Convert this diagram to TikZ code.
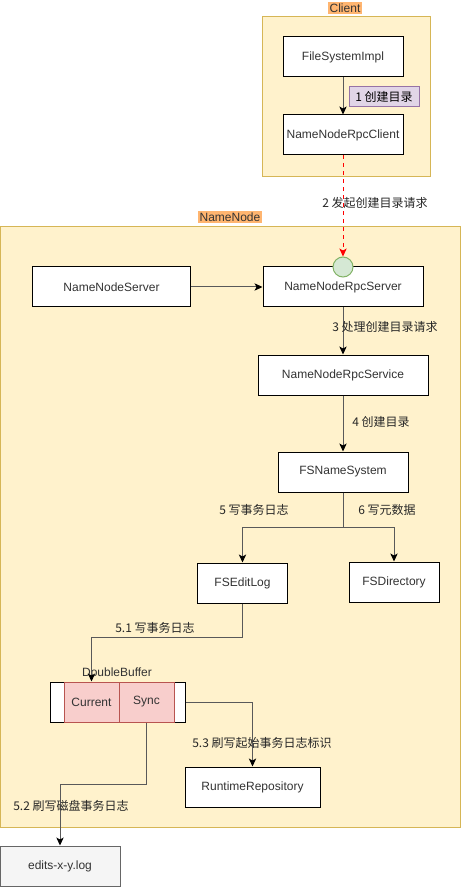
\documentclass[tikz,border=0pt]{standalone}
\usepackage{fontspec}
\setmainfont{Liberation Sans}
\newfontfamily\cjk{Noto Sans CJK SC}
\usepackage{xcolor}
\usetikzlibrary{arrows.meta,positioning,calc}
\definecolor{PanelFill}{HTML}{FFF2CC}
\definecolor{PanelLine}{HTML}{D6B656}
\definecolor{TagOrange}{HTML}{FFB570}
\definecolor{NoteFill}{HTML}{E1D5E7}
\definecolor{NoteLine}{HTML}{9673A6}
\definecolor{PortFill}{HTML}{D5E8D4}
\definecolor{PortLine}{HTML}{82B366}
\definecolor{BufFill}{HTML}{F8CECC}
\definecolor{BufLine}{HTML}{B85450}
\definecolor{FileFill}{HTML}{F5F5F5}
\definecolor{FileLine}{HTML}{666666}
\definecolor{FileText}{HTML}{333333}

\begin{document}
\begin{tikzpicture}[x=0.75pt, y=-0.75pt, font=\fontsize{9pt}{11pt}\selectfont, line width=0.75pt,
  panel/.style={draw=PanelLine, fill=PanelFill},
  tag/.style={fill=TagOrange, inner sep=1pt, text=FileText},
  box/.style={draw=black, fill=white, minimum width=90pt, minimum height=30pt, inner sep=0pt, text=FileText},
  note/.style={draw=NoteLine, fill=NoteFill, minimum width=52.5pt, minimum height=15pt, inner sep=0pt, font=\cjk\fontsize{9pt}{11pt}\selectfont},
  lbl/.style={inner sep=1pt, font=\cjk\fontsize{9pt}{11pt}\selectfont, text=black!85},
  buf/.style={draw=BufLine, fill=BufFill, minimum width=41.25pt, minimum height=30pt, inner sep=0pt, text=FileText},
  flow/.style={draw=black!65, -{Stealth[length=6pt,width=5.5pt,inset=1.5pt,black]}}]

\useasboundingbox (0,0) rectangle (461,887);

% containers
\draw[panel] (262,17) rectangle (430,177);
\node[tag] (clientTag) at (345,8) {Client};
\draw[panel] (0.5,227) rectangle (460,827);
\node[tag] (nnTag) at (230,217) {NameNode};

% client side
\node[box] (fsImpl) at (343,57) {FileSystemImpl};
\node[box] (rpcClient) at (343,135) {NameNodeRpcClient};
\draw[flow] (fsImpl) -- (rpcClient);
\node[note] (step1) at (384,97) {1 创建目录};

% namenode side
\node[box, minimum width=118pt] (nnServer) at (111.5,287) {NameNodeServer};
\node[box, minimum width=120pt] (rpcServer) at (343,287) {NameNodeRpcServer};
\node[circle, draw=PortLine, fill=PortFill, minimum size=15pt, inner sep=0pt] (port) at (343,267) {};
\node[box, minimum width=127.5pt] (rpcService) at (343,375) {NameNodeRpcService};
\node[box, minimum width=97.5pt] (fsns) at (343,472) {FSNameSystem};
\node[box, minimum width=67pt] (editLog) at (242.5,583) {FSEditLog};
\node[box, minimum width=67.5pt] (fsDir) at (394,582) {FSDirectory};

\draw[red, dash pattern=on 3pt off 3pt, -{Stealth[length=6pt,width=5.5pt,inset=1.5pt]}] (rpcClient) -- (port);
\node[lbl] (step2) at (375,203) {2 发起创建目录请求};

\draw[flow] (nnServer) -- (rpcServer);
\draw[flow] (rpcServer) -- (rpcService);
\node[lbl] (step3) at (385,327) {3 处理创建目录请求};
\draw[flow] (rpcService) -- (fsns);
\node[lbl] (step4) at (381,422) {4 创建目录};
\draw[flow] (fsns.south) -- ++(0,35) -| (editLog.north);
\draw[flow] (fsns.south) -- ++(0,35) -| (fsDir.north);
\node[lbl] (step5) at (254,510) {5 写事务日志};
\node[lbl] (step6) at (387,510) {6 写元数据};

% double buffer
\node[box, minimum width=101.25pt] (dbuf) at (117.5,702) {};
\node[buf] (cur) at (91.5,702) {Current};
\node[buf] (sync) at (146.5,702) {Sync};
\node[inner sep=1pt, text=FileText] (dbufTag) at (117,672) {DoubleBuffer};
\draw[flow] (editLog.south) -- ++(0,34) -| (cur.north);
\node[lbl] (step51) at (155,628) {5.1 写事务日志};

\node[box, minimum width=101.25pt] (runtime) at (252.5,787) {RuntimeRepository};
\draw[flow] (dbuf.east) -| (runtime.north);
\node[lbl] (step53) at (262,743) {5.3 刷写起始事务日志标识};

\node[box, draw=FileLine, fill=FileFill] (edits) at (60,866) {edits-x-y.log};
\draw[flow] (sync.south) -- ++(0,62) -| (edits.north);
\node[lbl] (step52) at (71,806) {5.2 刷写磁盘事务日志};
\end{tikzpicture}
\end{document}
